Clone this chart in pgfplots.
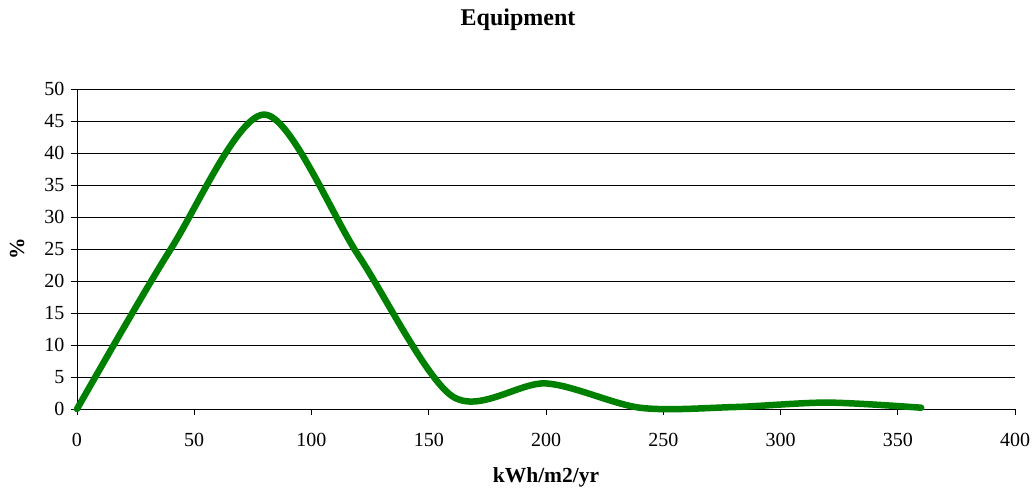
\documentclass[border=0pt]{standalone}
\usepackage{pgfplots}
\pgfplotsset{compat=1.18}
\usepackage{fontspec}
\setmainfont{Liberation Serif}
\definecolor{curvegreen}{RGB}{0,128,0}
\begin{document}
\begin{tikzpicture}[x=1pt,y=1pt]
\useasboundingbox (-77,-83) rectangle (959,409);
\begin{axis}[
  scale only axis,
  width=938pt, height=320pt,
  xmin=0, xmax=400, ymin=0, ymax=50,
  xtick={0,50,...,400}, ytick={0,5,...,50},
  axis lines*=left,
  axis line style={black, line width=0.7pt, -},
  ymajorgrids,
  grid style={black, line width=0.6pt},
  tick style={black, line width=0.7pt},
  tick align=outside,
  major tick length=6pt,
  tick label style={font=\fontsize{20}{22}\selectfont},
  /pgf/number format/assume math mode=true,
  xticklabel style={anchor=center, yshift=-25pt},
  yticklabel style={anchor=east, xshift=-3pt},
  title={\textbf{Equipment}},
  title style={font=\fontsize{24}{26}\selectfont, at={(0.5,1)}, anchor=center, yshift=63pt, xshift=-28pt},
  xlabel={\textbf{kWh/m2/yr}},
  xlabel style={font=\fontsize{21.5}{23}\selectfont, at={(0.5,0)}, anchor=center, yshift=-68pt},
  ylabel={\textbf{\%}},
  ylabel style={font=\fontsize{21.5}{23}\selectfont, at={(0,0.5)}, anchor=center, yshift=60pt},
  clip=false,
]
\addplot[curvegreen, line width=6.5pt, smooth, tension=0.5, line cap=round] coordinates {
  (0,0) (40,25) (80,46) (120,24) (160,2) (200,4) (240,0.2) (280,0.3) (320,1) (360,0.2)
};
\end{axis}
\end{tikzpicture}
\end{document}
